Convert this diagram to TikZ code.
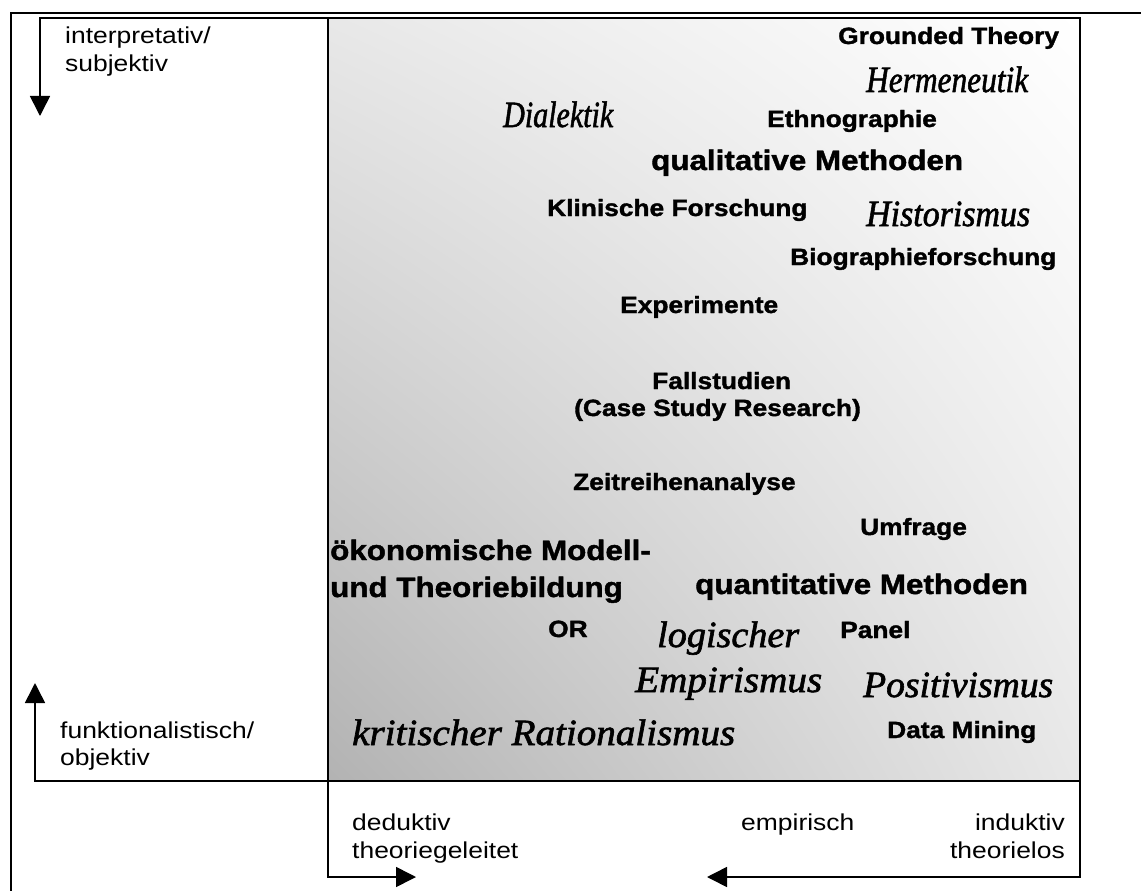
\documentclass[tikz,border=0pt]{standalone}
\usepackage{fontspec}
\setmainfont{Liberation Serif}
\newfontfamily\labelsans[FakeStretch=1.15]{Liberation Sans}
\newfontfamily\methodsans[FakeStretch=1.12,FakeBold=1.5]{Liberation Sans Bold}
\newfontfamily\schoolserif[FakeBold=1.6]{Liberation Serif Italic}
\usetikzlibrary{arrows.meta,shadings}

% set #2 at its natural height, stretched or squeezed to width #1 (in pt)
\newlength\fitlen
\newcommand\fitwidth[2]{\settowidth\fitlen{#2}\pgfmathsetmacro\fitfac{#1/\fitlen}\scalebox{\fitfac}[1]{#2}}

\tikzset{
  frame/.style={line width=1.6pt, line join=miter},
  axisarrow/.style={line width=1.6pt, -{Triangle[length=20pt,width=20pt]}},
  axislabel/.style={font=\labelsans\fontsize{23}{28}\selectfont, inner sep=0pt},
  method/.style={font=\methodsans\fontsize{23.5}{26}\selectfont, inner sep=0pt, anchor=base west},
  bigmethod/.style={font=\methodsans\fontsize{28}{30}\selectfont, inner sep=0pt, anchor=base west},
  school/.style={font=\schoolserif\fontsize{37}{38}\selectfont, inner sep=0pt, anchor=base west},
}

\begin{document}
\begin{tikzpicture}[x=1pt,y=-1pt]
  \useasboundingbox (0,0) rectangle (1141,891);
  \fill[white] (0,0) rectangle (1141,891);

  % corner points of the field and the arrow tips
  \coordinate (tl) at (328,18);
  \coordinate (tr) at (1080,18);
  \coordinate (bl) at (328,781);
  \coordinate (br) at (1080,781);
  \coordinate (topbend) at (40,18);
  \coordinate (subjtip) at (40,116);
  \coordinate (objbend) at (35,781);
  \coordinate (objtip) at (35,683);
  \coordinate (dedbend) at (328,877);
  \coordinate (dedtip) at (416,877);
  \coordinate (indbend) at (1080,877);
  \coordinate (indtip) at (707,877);
  \coordinate (outerbottom) at (11,891);
  \coordinate (outercorner) at (11,13);
  \coordinate (outerright) at (1141,13);

  % shaded field
  \shade[lower left=black!30, upper left=black!9, upper right=white, lower right=black!9]
    (tl) rectangle (br);

  % outer frame
  \draw[frame] (outerbottom) -- (outercorner) -- (outerright);

  % field outline
  \draw[frame] (tl) -- (tr) -- (br) -- (bl) -- cycle;

  % axis arrows
  \draw[axisarrow] (tl) -- (topbend) -- (subjtip);
  \draw[axisarrow] (bl) -- (objbend) -- (objtip);
  \draw[axisarrow] (bl) -- (dedbend) -- (dedtip);
  \draw[axisarrow] (br) -- (indbend) -- (indtip);

  % axis labels
  \node[axislabel, anchor=base west] (interp) at (65,44) {interpretativ/};
  \node[axislabel, anchor=base west] (subj) at (65,72) {subjektiv};
  \node[axislabel, anchor=base west] (funkt) at (60,738) {funktionalistisch/};
  \node[axislabel, anchor=base west] (obj) at (60,765) {objektiv};
  \node[axislabel, anchor=base west] (ded) at (352,830) {deduktiv};
  \node[axislabel, anchor=base west] (theogel) at (352,858) {theoriegeleitet};
  \node[axislabel, anchor=base west] (emp) at (741,830) {empirisch};
  \node[axislabel, anchor=base east] (ind) at (1065,830) {induktiv};
  \node[axislabel, anchor=base east] (theolos) at (1065,858) {theorielos};

  % research methods
  \node[method] (grounded) at (838,44) {Grounded Theory};
  \node[method] (ethno) at (767,127) {Ethnographie};
  \node[bigmethod] (qual) at (651,170) {qualitative Methoden};
  \node[method] (klin) at (547,216) {Klinische Forschung};
  \node[method] (bio) at (790,265) {Biographieforschung};
  \node[method] (exp) at (620,313) {Experimente};
  \node[method] (fall) at (652,389) {Fallstudien};
  \node[method] (case) at (574,416) {(Case Study Research)};
  \node[method] (zeit) at (573,490) {Zeitreihenanalyse};
  \node[method] (umfrage) at (860,535) {Umfrage};
  \node[bigmethod] (oekon) at (330,560) {ökonomische Modell-};
  \node[bigmethod] (theob) at (330,597) {und Theoriebildung};
  \node[bigmethod] (quant) at (695,594) {quantitative Methoden};
  \node[method] (or) at (548,637) {OR};
  \node[method] (panel) at (840,638) {Panel};
  \node[method] (mining) at (887,738) {Data Mining};

  % schools of thought
  \node[school] (herm) at (866,92) {\fitwidth{162}{Hermeneutik}};
  \node[school] (dial) at (503,127) {\fitwidth{110}{Dialektik}};
  \node[school] (hist) at (866,226) {\fitwidth{164}{Historismus}};
  \node[school] (logi) at (657,647) {\fitwidth{142}{logischer}};
  \node[school] (empir) at (635,692) {\fitwidth{187}{Empirismus}};
  \node[school] (posit) at (863,697) {\fitwidth{190}{Positivismus}};
  \node[school] (krit) at (352,745) {\fitwidth{383}{kritischer Rationalismus}};
\end{tikzpicture}
\end{document}
